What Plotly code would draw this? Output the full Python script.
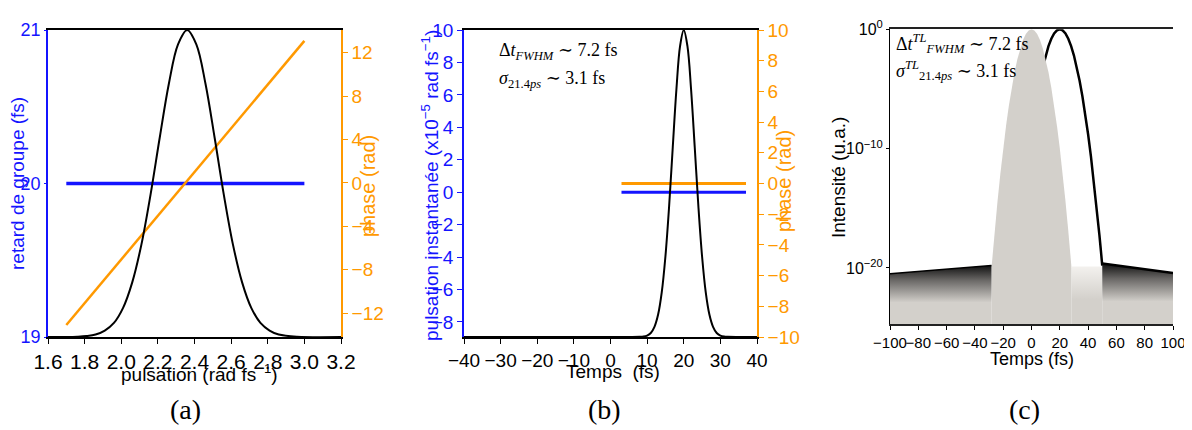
import plotly.graph_objects as go

# the page body adds an 8 px margin, so the figure is drawn 8 px in from the top-left corner
W, H = 1184, 422
OFF = 8
SANS = "Liberation Sans Narrow, Arial Narrow, Liberation Sans, Arial, sans-serif"
SERIF = "Liberation Serif, Times New Roman, DejaVu Serif, serif"
BLUE = "#1414ff"
ORANGE = "#ff9900"
GRAY = "#d3d0cb"

# ---------------- data: panel (a) ----------------
omega_a = [1.6, 1.7, 1.76, 1.81, 1.86, 1.91, 1.96, 2.01, 2.06, 2.11, 2.16, 2.21, 2.26, 2.31, 2.36,
           2.41, 2.46, 2.51, 2.56, 2.61, 2.66, 2.71, 2.76, 2.81, 2.86, 2.96, 3.2]
spectrum_a = [0, 0.0002, 0.001, 0.003, 0.008, 0.021, 0.046, 0.095, 0.178, 0.301, 0.464, 0.649, 0.825, 0.953, 1.0,
              0.953, 0.825, 0.649, 0.464, 0.301, 0.178, 0.095, 0.046, 0.021, 0.008, 0.001, 0]
omega_line_a = [1.7, 3.0]
group_delay_a = [20, 20]
phase_a = [-13.1, 13.1]
xticks_a = [1.6, 1.8, 2.0, 2.2, 2.4, 2.6, 2.8, 3.0, 3.2]
yticks_a_left = [19, 20, 21]
yticks_a_right = [-12, -8, -4, 0, 4, 8, 12]

# ---------------- data: panel (b) ----------------
t_b = [-40, 5, 8, 9, 10, 11, 12, 13, 14, 15, 16, 17, 18, 19, 20, 21, 22, 23, 24, 25, 26, 27, 28, 29, 30,
       31, 32, 35, 40]
intensity_b = [0, 0, 0.0005, 0.0015, 0.0047, 0.013, 0.033, 0.073, 0.146, 0.263, 0.425, 0.618, 0.807, 0.948, 1.0,
               0.948, 0.807, 0.618, 0.425, 0.263, 0.146, 0.073, 0.033, 0.013, 0.0047, 0.0015, 0.0005, 0, 0]
t_line_b = [3, 37]
inst_freq_b = [0, 0]
phase_b = [0, 0]
xticks_b = [-40, -30, -20, -10, 0, 10, 20, 30, 40]
yticks_b_left = [-8, -6, -4, -2, 0, 2, 4, 6, 8, 10]
yticks_b_right = [-10, -8, -6, -4, -2, 0, 2, 4, 6, 8, 10]

# ---------------- data: panel (c) ----------------
t_tl = [-28.3, -28, -26, -24, -22, -20, -18, -16, -14, -12, -10, -8, -6, -4, -2, 0,
        2, 4, 6, 8, 10, 12, 14, 16, 18, 20, 22, 24, 26, 28, 28.3]
intensity_tl = [9.5e-21, 2.51e-20, 1.26e-17, 3.98e-15, 7.94e-13, 1e-10, 7.94e-9, 3.98e-7, 1.26e-5, 2.51e-4,
                3.16e-3, 0.0251, 0.126, 0.398, 0.794, 1.0,
                0.794, 0.398, 0.126, 0.0251, 3.16e-3, 2.51e-4, 1.26e-5, 3.98e-7, 7.94e-9, 1e-10, 7.94e-13,
                3.98e-15, 1.26e-17, 2.51e-20, 9.5e-21]
t_pulse = [8, 10, 12, 14, 16, 18, 20, 22, 24, 26, 28, 30, 32, 34, 36, 38, 40, 42, 44, 46, 48, 49, 50]
intensity_pulse = [6.79e-4, 6.31e-3, 0.0391, 0.161, 0.445, 0.817, 1.0, 0.817, 0.445, 0.161, 0.0391, 6.31e-3,
                   6.79e-4, 4.88e-5, 2.33e-6, 7.45e-8, 1.58e-9, 2.25e-11, 2.13e-13, 1.34e-15, 5.65e-18,
                   3.16e-19, 1.58e-20]
t_comb_left = [-100, -28.3]
env_comb_left = [3.2e-21, 1.6e-20]
t_comb_mid = [28.3, 50]
env_comb_mid = [1.3e-20, 1.3e-20]
t_comb_right = [50, 100]
env_comb_right = [2.3e-20, 3.8e-21]
floor_c = 1e-26
xticks_c = [-100, -80, -60, -40, -20, 0, 20, 40, 60, 80, 100]
yticks_c = [1, 1e-10, 1e-20]
yticklabels_c = ["10<sup>0</sup>", "10<sup>−10</sup>", "10<sup>−20</sup>"]


def px(x):
    return (x - OFF) / W


def py(y):
    return 1 - (y - OFF) / H


fig = go.Figure()

# panel (a)
fig.add_trace(go.Scatter(x=omega_line_a, y=group_delay_a, mode="lines", line=dict(color=BLUE, width=3.5),
                         xaxis="x", yaxis="y"))
fig.add_trace(go.Scatter(x=omega_a, y=spectrum_a, mode="lines", line=dict(color="black", width=2, shape="spline"),
                         xaxis="x", yaxis="y3"))
fig.add_trace(go.Scatter(x=omega_line_a, y=phase_a, mode="lines", line=dict(color=ORANGE, width=2.5),
                         xaxis="x", yaxis="y2"))

# panel (b)
fig.add_trace(go.Scatter(x=t_line_b, y=inst_freq_b, mode="lines", line=dict(color=BLUE, width=3),
                         xaxis="x2", yaxis="y4"))
fig.add_trace(go.Scatter(x=t_line_b, y=phase_b, mode="lines", line=dict(color=ORANGE, width=3),
                         xaxis="x2", yaxis="y5"))
fig.add_trace(go.Scatter(x=t_b, y=intensity_b, mode="lines", line=dict(color="black", width=2, shape="spline"),
                         xaxis="x2", yaxis="y6"))

# panel (c)
fig.add_trace(go.Scatter(x=t_pulse, y=intensity_pulse, mode="lines", line=dict(color="black", width=2.5),
                         xaxis="x3", yaxis="y7"))
fig.add_trace(go.Scatter(x=t_tl + [t_tl[-1], t_tl[0]], y=intensity_tl + [floor_c, floor_c], mode="lines",
                         fill="toself", fillcolor=GRAY, line=dict(width=0, color=GRAY),
                         xaxis="x3", yaxis="y7"))
dark_grad = [[0, GRAY], [0.5, GRAY], [0.8, "#6a6866"], [1, "#111111"]]
light_grad = [[0, GRAY], [0.55, GRAY], [1, "#f3f1ee"]]
for tt, env, grad in [(t_comb_left, env_comb_left, dark_grad), (t_comb_mid, env_comb_mid, light_grad),
                      (t_comb_right, env_comb_right, dark_grad)]:
    fig.add_trace(go.Scatter(x=tt + [tt[-1], tt[0]], y=env + [floor_c, floor_c], mode="lines",
                             fill="toself", fillcolor=GRAY,
                             fillgradient=dict(type="vertical", colorscale=grad),
                             line=dict(width=0, color=GRAY), xaxis="x3", yaxis="y7"))
fig.add_trace(go.Scatter(x=t_comb_left, y=env_comb_left, mode="lines", line=dict(color="black", width=1.5),
                         xaxis="x3", yaxis="y7"))
fig.add_trace(go.Scatter(x=t_comb_right, y=env_comb_right, mode="lines", line=dict(color="black", width=2.5),
                         xaxis="x3", yaxis="y7"))

dom_ab_y = [py(337), py(30)]
common = dict(showgrid=False, zeroline=False, automargin=False)

fig.update_layout(
    width=W, height=H, margin=dict(l=0, r=0, t=0, b=0, autoexpand=False), showlegend=False,
    paper_bgcolor="white", plot_bgcolor="white",
    # (a)
    xaxis=dict(domain=[px(48), px(341)], anchor="y", range=[1.6, 3.2], tickvals=xticks_a,
               ticktext=[f"{v:.1f}" for v in xticks_a], ticks="outside", ticklen=5, tickcolor="black",
               showline=True, linecolor="black", linewidth=2, mirror=True, tickangle=0,
               tickfont=dict(family=SANS, size=21, color="black"), **common),
    yaxis=dict(domain=dom_ab_y, anchor="x", range=[19, 21], tickvals=yticks_a_left, ticks="outside",
               ticklen=2, tickcolor=BLUE, showline=True, linecolor=BLUE, linewidth=1.5,
               tickfont=dict(family=SANS, size=18, color=BLUE), **common),
    yaxis2=dict(overlaying="y", side="right", anchor="x", range=[-14.2, 14.1], tickvals=yticks_a_right,
                ticks="outside", ticklen=5, tickcolor=ORANGE, showline=True, linecolor=ORANGE, linewidth=1.5,
                tickfont=dict(family=SANS, size=19, color=ORANGE), **common),
    yaxis3=dict(overlaying="y", anchor="x", range=[0, 1], visible=False),
    # (b)
    xaxis2=dict(domain=[px(464), px(757)], anchor="y4", range=[-40, 40], tickvals=xticks_b, ticks="outside",
                ticklen=5, tickcolor="black", showline=True, linecolor="black", linewidth=2, mirror=True,
                tickangle=0, tickfont=dict(family=SANS, size=19, color="black"), **common),
    yaxis4=dict(domain=dom_ab_y, anchor="x2", range=[-8.93, 10], tickvals=yticks_b_left, ticks="outside",
                ticklen=5, tickcolor=BLUE, showline=True, linecolor=BLUE, linewidth=1.5,
                tickfont=dict(family=SANS, size=19, color=BLUE), **common),
    yaxis5=dict(overlaying="y4", side="right", anchor="x2", range=[-10, 10], tickvals=yticks_b_right,
                ticks="outside", ticklen=5, tickcolor=ORANGE, showline=True, linecolor=ORANGE, linewidth=1.5,
                tickfont=dict(family=SANS, size=19, color=ORANGE), **common),
    yaxis6=dict(overlaying="y4", anchor="x2", range=[0, 1], visible=False),
    # (c)
    xaxis3=dict(domain=[px(890), px(1173)], anchor="y7", range=[-100, 100], tickvals=xticks_c, ticks="outside",
                ticklen=4, tickcolor="black", showline=True, linecolor="#222", linewidth=2, mirror=True,
                tickangle=0, tickfont=dict(family=SANS, size=15, color="black"), **common),
    yaxis7=dict(domain=[py(324), py(29.3)], anchor="x3", type="log", range=[-24.7, 0.0], tickvals=yticks_c,
                ticktext=yticklabels_c, ticks="outside", ticklen=3, tickcolor="black", showline=True,
                linecolor="black", linewidth=1,
                tickfont=dict(family=SANS, size=16, color="black"), **common),
)

ann = []


def add_text(x, y, text, size, color="black", family=SANS, angle=0, xanchor="center"):
    ann.append(dict(x=px(x), y=py(y), xref="paper", yref="paper", text=text, showarrow=False,
                    font=dict(family=family, size=size, color=color), textangle=angle,
                    xanchor=xanchor, yanchor="middle"))


# axis titles (a)
add_text(17, 184, "retard de groupe (fs)", 19, BLUE, angle=-90)
add_text(368, 186, "phase (rad)", 20, ORANGE, angle=-90)
add_text(199, 373, "pulsation (rad fs<sup>−1</sup>)", 19)
# axis titles (b)
add_text(430, 186, "pulsation instantanée (x10<sup>−5</sup> rad fs<sup>−1</sup>)", 19, BLUE, angle=-90)
add_text(784, 181, "phase (rad)", 20, ORANGE, angle=-90)
add_text(613, 371, "Temps  (fs)", 19)
# axis titles (c)
add_text(838, 178, "Intensité (u.a.)", 19, angle=-90)
add_text(1032, 359, "Temps (fs)", 18)
# annotations (b)
add_text(497, 52, "Δ<i>t</i><sub><i>FWHM</i></sub> ∼ 7.2 fs", 18, family=SERIF, xanchor="left")
add_text(497, 79, "<i>σ</i><sub>21.4<i>ps</i></sub> ∼ 3.1 fs", 18, family=SERIF, xanchor="left")
# annotations (c)
add_text(894, 43, "Δ<i>t</i><sup><i>TL</i></sup><sub><i>FWHM</i></sub> ∼ 7.2 fs", 18, family=SERIF, xanchor="left")
add_text(894, 71, "<i>σ</i><sup><i>TL</i></sup><sub>21.4<i>ps</i></sub> ∼ 3.1 fs", 18, family=SERIF,
         xanchor="left")
# panel labels
add_text(185, 409, "(a)", 28, family=SERIF)
add_text(604, 409, "(b)", 28, family=SERIF)
add_text(1024, 409, "(c)", 28, family=SERIF)

fig.update_layout(annotations=ann)
fig.write_html("out.html")
